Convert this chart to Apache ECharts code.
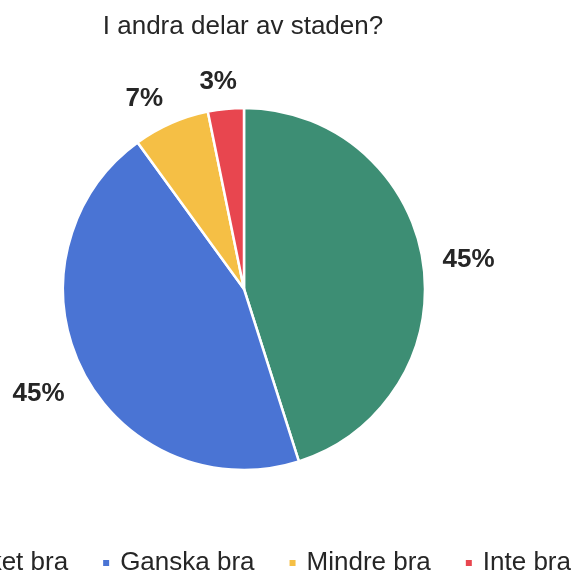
<!DOCTYPE html>
<html>
<head>
<meta charset="utf-8">
<script src="https://cdn.jsdelivr.net/npm/echarts@6/dist/echarts.min.js"></script>
<style>
html,body{margin:0;padding:0;background:#fff;}
#chart{width:578px;height:574px;}
</style>
</head>
<body>
<div id="chart"></div>
<script>
const title = 'I andra delar av staden?';
const categories = ['Mycket bra', 'Ganska bra', 'Mindre bra', 'Inte bra'];
const values = [45.1, 44.9, 6.8, 3.2];
const colors = ['#3d8e74', '#4a74d4', '#f5bf45', '#e8464f'];

const CX = 244, CY = 289, RADIUS = 181, GAP = 20;

const chart = echarts.init(document.getElementById('chart'), null, {renderer: 'canvas'});
chart.setOption({
  animation: false,
  backgroundColor: '#fff',
  color: colors,
  title: {
    text: title,
    left: 238,
    textAlign: 'center',
    top: 9,
    textStyle: {fontFamily: 'Liberation Sans', fontSize: 26, fontWeight: 'normal', color: '#262626'}
  },
  legend: {
    data: categories,
    left: -83,
    top: 545,
    width: 800,
    itemWidth: 8,
    itemHeight: 8,
    itemGap: 33,
    icon: 'rect',
    textStyle: {fontFamily: 'Liberation Sans', fontSize: 26, color: '#262626', padding: [0, 0, 0, 5]}
  },
  series: [{
    type: 'pie',
    center: [CX, CY],
    radius: RADIUS,
    startAngle: 90,
    clockwise: true,
    silent: true,
    itemStyle: {borderColor: '#ffffff', borderWidth: 2.5},
    label: {
      show: true,
      position: 'inside',
      formatter: p => Math.round(p.value) + '%',
      fontFamily: 'Liberation Sans',
      fontSize: 26,
      fontWeight: 'bold',
      color: '#262626'
    },
    labelLine: {show: false},
    labelLayout: function (p) {
      const r = p.labelRect;
      const lx = r.x + r.width / 2, ly = r.y + r.height / 2;
      let dx = lx - CX, dy = ly - CY;
      const d = Math.hypot(dx, dy) || 1;
      dx /= d; dy /= d;
      const R = RADIUS + GAP;
      const sx = Math.max(-1, Math.min(1, dx * 3));
      const x = CX + dx * R + sx * r.width / 2;
      const y = CY + dy * R + dy * (dy > 0 ? 25 : 10) + 3;
      return {x: x, y: y, align: 'center', verticalAlign: 'middle'};
    },
    data: categories.map((n, i) => ({name: n, value: values[i]}))
  }]
});
</script>
</body>
</html>
